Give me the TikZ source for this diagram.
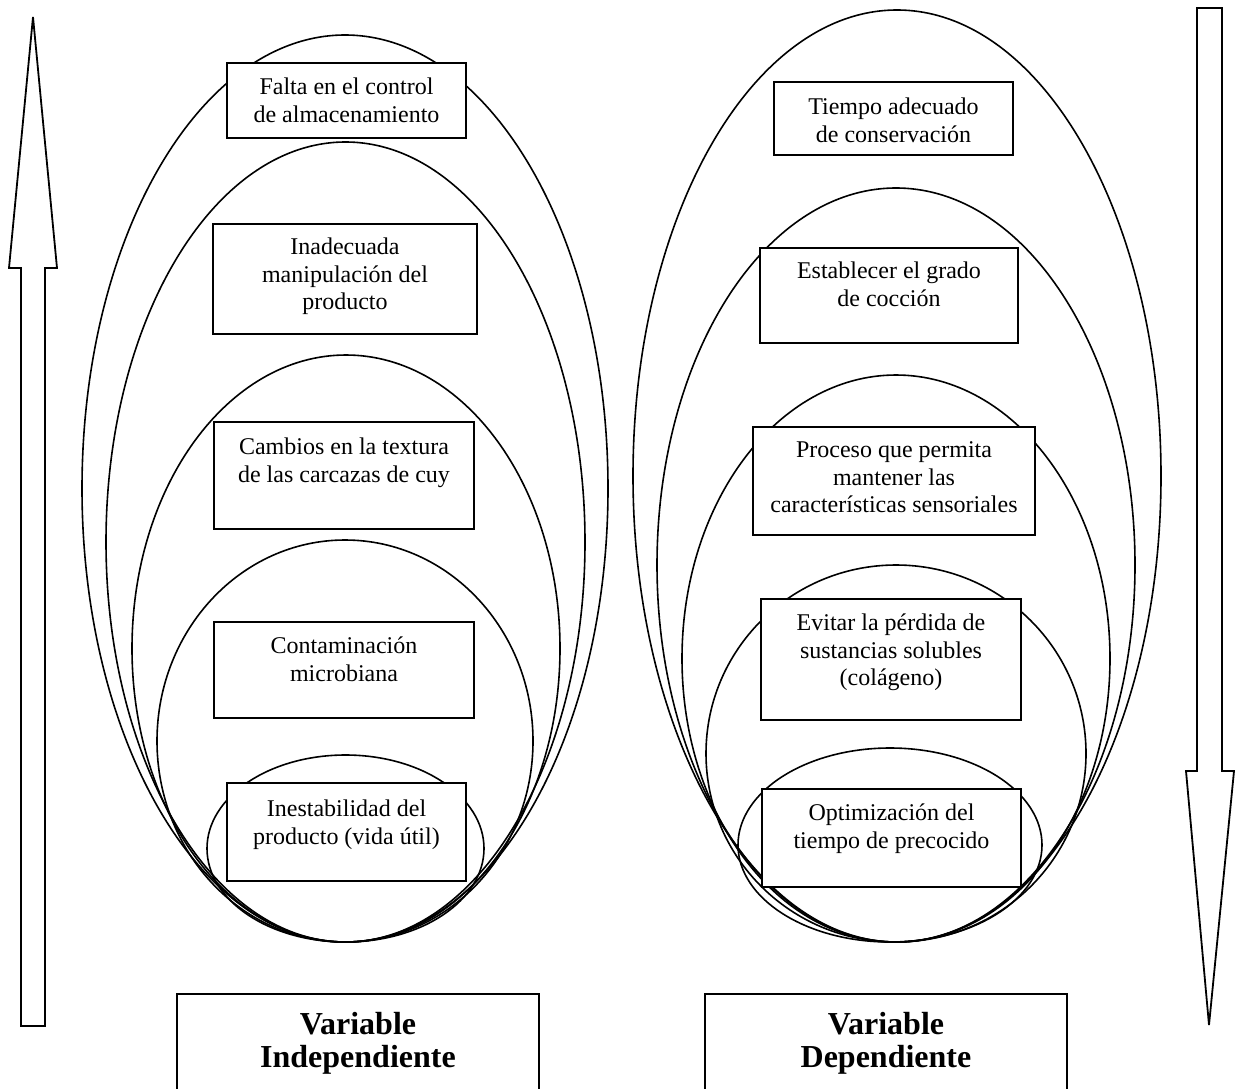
\documentclass[tikz,border=0pt]{standalone}
\usepackage{fontspec}
\setmainfont{Liberation Serif}
\newcommand{\cajatexto}[4]{\parbox[t][#2][t]{#1}{\centering\vspace*{#3}\strut#4}}

\begin{document}
\begin{tikzpicture}[x=0.5pt,y=-0.5pt,
    caja/.style={draw,fill=white,line width=0.9pt,inner sep=0pt,font=\fontsize{12}{13.8}\selectfont},
    titulo/.style={draw,line width=0.9pt,inner sep=0pt,anchor=north,font=\fontsize{16}{15}\selectfont\bfseries},
    flecha/.style={line width=0.9pt,line join=miter},
    elipse/.style={line width=0.8pt}]
  \useasboundingbox (0,0) rectangle (1242,1088);
  \clip (0,0) rectangle (1242,1088);
  % flechas
  \draw[flecha] (21,1026) -- (21,268) -- (9,268) -- (33,17) -- (57,268) -- (45,268) -- (45,1026) -- cycle;
  \draw[flecha] (1197,8) -- (1197,771) -- (1186,771) -- (1209,1025) -- (1234,771) -- (1222,771) -- (1222,8) -- cycle;
  % elipses
  \begin{scope}[elipse]
    \draw (345,488.5) ellipse [x radius=263, y radius=453.5];
    \draw (345.5,542) ellipse [x radius=239.5, y radius=400];
    \draw (346,648.5) ellipse [x radius=214, y radius=293.5];
    \draw (345,741) ellipse [x radius=188, y radius=201];
    \draw (345.5,848.5) ellipse [x radius=138.5, y radius=93.5];
    \draw (897,476) ellipse [x radius=264, y radius=466];
    \draw (896,565) ellipse [x radius=239, y radius=377];
    \draw (896,658.5) ellipse [x radius=214, y radius=283.5];
    \draw (896,753.5) ellipse [x radius=190, y radius=188.5];
    \draw (890,845) ellipse [x radius=152, y radius=97];
  \end{scope}
  % variable independiente
  \node[caja] (i1) at (346.5,100.5) {\cajatexto{119.5pt}{37.5pt}{6.2pt}{Falta en el control\\de almacenamiento}};
  \node[caja] (i2) at (345,279) {\cajatexto{132pt}{55pt}{5.7pt}{Inadecuada\\manipulación del\\producto}};
  \node[caja] (i3) at (344,475.5) {\cajatexto{130pt}{53.5pt}{6.7pt}{Cambios en la textura\\de las carcazas de cuy}};
  \node[caja] (i4) at (344,670) {\cajatexto{130pt}{48pt}{6.2pt}{Contaminación\\microbiana}};
  \node[caja] (i5) at (346.5,832) {\cajatexto{119.5pt}{49pt}{7.2pt}{Inestabilidad del\\producto (vida útil)}};
  % variable dependiente
  \node[caja] (d1) at (893.5,118.5) {\cajatexto{119.5pt}{36.5pt}{6.7pt}{Tiempo adecuado\\de conservación}};
  \node[caja] (d2) at (889,295.5) {\cajatexto{129pt}{47.5pt}{5.7pt}{Establecer el grado\\de cocción}};
  \node[caja] (d3) at (894,481) {\cajatexto{141pt}{54pt}{5.7pt}{Proceso que permita\\mantener las\\características sensoriales}};
  \node[caja] (d4) at (891,659.5) {\cajatexto{130pt}{60.5pt}{6.2pt}{Evitar la pérdida de\\sustancias solubles\\(colágeno)}};
  \node[caja] (d5) at (891.5,838) {\cajatexto{129.5pt}{49pt}{6.2pt}{Optimización del\\tiempo de precocido}};
  % titulos
  \node[titulo] (vi) at (358,993) {\cajatexto{181pt}{60pt}{9pt}{Variable\\Independiente}};
  \node[titulo] (vd) at (886,993) {\cajatexto{181pt}{60pt}{9pt}{Variable\\Dependiente}};
\end{tikzpicture}
\end{document}
